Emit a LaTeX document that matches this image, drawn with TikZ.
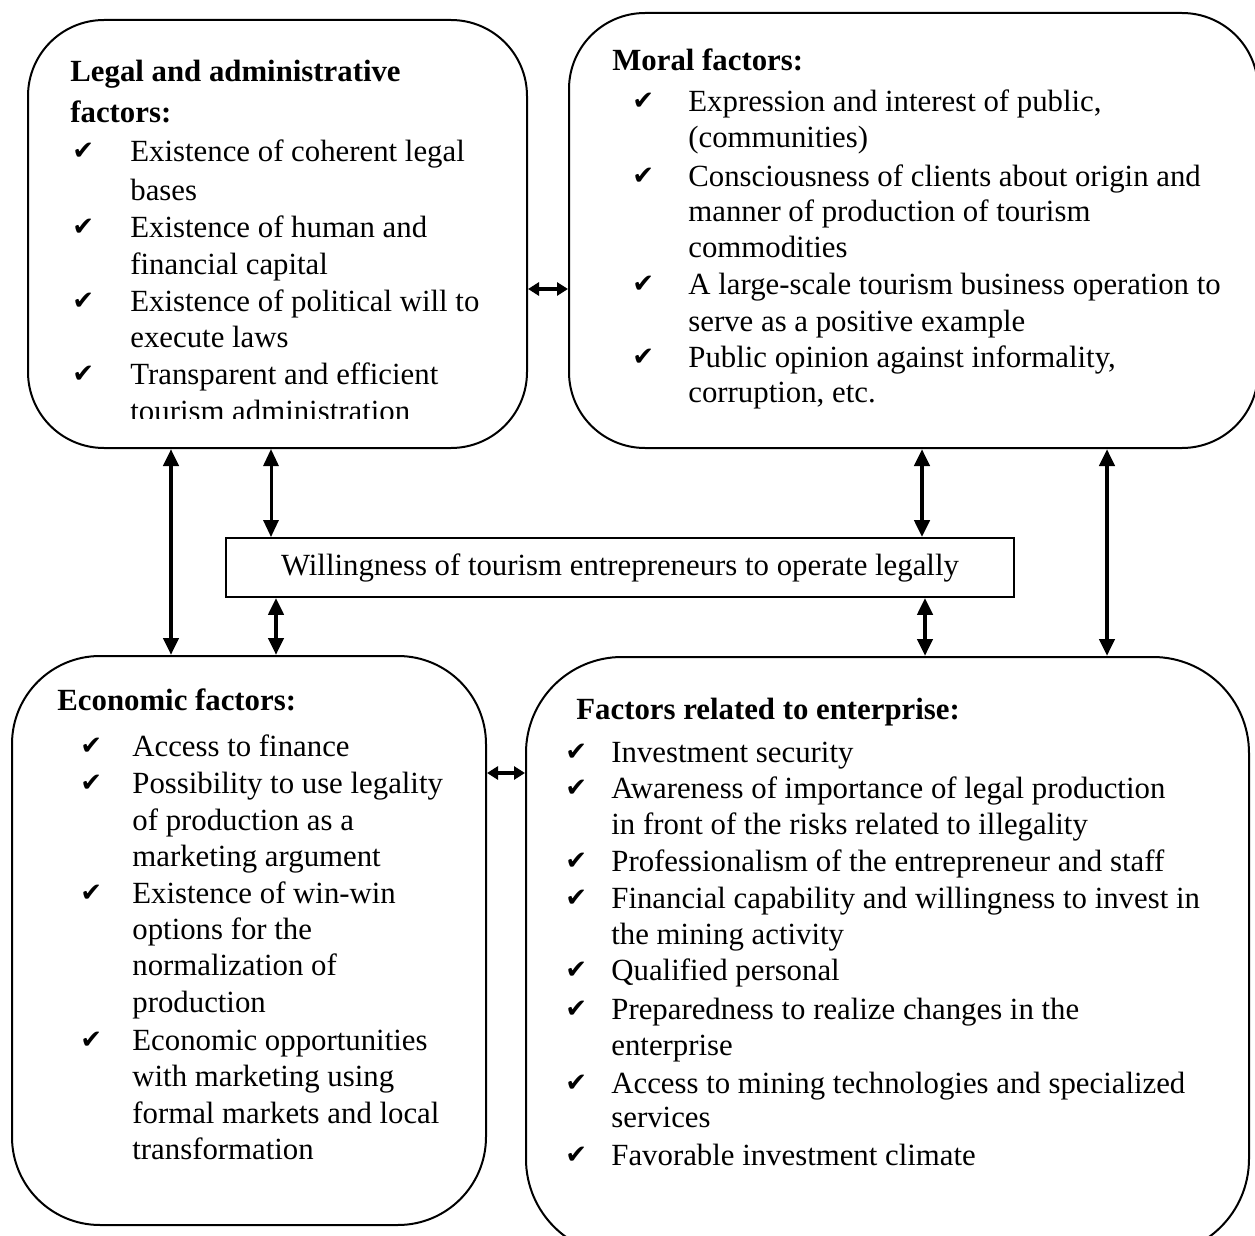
\documentclass[tikz,border=0pt]{standalone}
\usepackage{fontspec}
\setmainfont{Liberation Serif}
\newfontfamily\chkfont{DejaVu Sans}
\usetikzlibrary{arrows.meta}
\begin{document}
\begin{tikzpicture}[x=0.5pt,y=-0.5pt,
  box/.style={draw, line width=1pt, inner sep=0pt},
  txt/.style={anchor=mid west, inner sep=0pt, font=\fontsize{15.4}{18}\selectfont},
  ttl/.style={anchor=mid west, inner sep=0pt, font=\fontsize{15.4}{18}\selectfont\bfseries},
  chk/.style={anchor=mid west, inner sep=0pt, font=\chkfont\fontsize{13}{15}\selectfont},
  arrthick/.style={{Triangle[length=8.5pt,width=7.5pt]}-{Triangle[length=8.5pt,width=7.5pt]}, line width=2.2pt},
  arrthin/.style={{Triangle[length=8.5pt,width=7.5pt]}-{Triangle[length=8.5pt,width=7.5pt]}, line width=1.5pt},
  arrh/.style={{Triangle[length=5.5pt,width=6.5pt]}-{Triangle[length=5.5pt,width=6.5pt]}, line width=2.2pt}]
\useasboundingbox (0,0) rectangle (1255,1236);
\clip (0,0) rectangle (1255,1236);

% boxes
\node[box, rounded corners=38pt, minimum width=249.5pt, minimum height=214pt] (legal) at (277.5,234) {};
\node[box, rounded corners=38pt, minimum width=344.5pt, minimum height=217.5pt] (moral) at (913.5,230.5) {};
\node[box, line width=0.9pt, minimum width=394pt, minimum height=29.5pt] (will) at (620,567.5) {};
\node[box, rounded corners=44pt, minimum width=237pt, minimum height=284.5pt] (econ) at (249,940.5) {};
\node[box, rounded corners=48pt, minimum width=361.5pt, minimum height=299pt] (ent) at (887.5,956) {};

% connectors
\draw[arrthick] (171,0 |- legal.south) -- (171,0 |- econ.north);
\draw[arrthin] (271,0 |- legal.south) -- (271,0 |- will.north);
\draw[arrthick] (276,0 |- will.south) -- (276,0 |- econ.north);
\draw[arrthick] (922,0 |- moral.south) -- (922,0 |- will.north);
\draw[arrthick] (925,0 |- will.south) -- (925,0 |- ent.north);
\draw[arrthick] (1107,0 |- moral.south) -- (1107,0 |- ent.north);
\draw[arrh] (legal.east |- 0,289) -- (moral.west |- 0,289);
\draw[arrh] (econ.east |- 0,773) -- (ent.west |- 0,773);

% willingness text
\node[inner sep=0pt, font=\fontsize{15.4}{18}\selectfont] (wt) at (will.center) {Willingness of tourism entrepreneurs to operate legally};

% legal box text
\node[ttl] (lt1) at (70,77) {Legal and administrative};
\node[ttl] (lt2) at (70,118) {factors:};
\node[chk] (lc1) at (72,155) {✔};
\node[txt] (l1) at (130,157) {Existence of coherent legal};
\node[txt] (l2) at (130,196) {bases};
\node[chk] (lc2) at (72,231) {✔};
\node[txt] (l3) at (130,233) {Existence of human and};
\node[txt] (l4) at (130,270) {financial capital};
\node[chk] (lc3) at (72,305) {✔};
\node[txt] (l5) at (130,307) {Existence of political will to};
\node[txt] (l6) at (130,343) {execute laws};
\node[chk] (lc4) at (72,378) {✔};
\node[txt] (l7) at (130,380) {Transparent and efficient};
\begin{scope}
\clip (0,0) rectangle (1255,418);
\node[txt] (l8) at (130,417) {tourism administration};
\end{scope}

% moral box text
\node[ttl] (mt) at (612,66) {Moral factors:};
\node[chk] (mc1) at (632,105) {✔};
\node[txt] (m1) at (688,107) {Expression and interest of public,};
\node[txt] (m2) at (688,143) {(communities)};
\node[chk] (mc2) at (632,180) {✔};
\node[txt] (m3) at (688,182) {Consciousness of clients about origin and};
\node[txt] (m4) at (688,217) {manner of production of tourism};
\node[txt] (m5) at (688,253) {commodities};
\node[chk] (mc3) at (632,288) {✔};
\node[txt] (m6) at (688,290) {A large-scale tourism business operation to};
\node[txt] (m7) at (688,327) {serve as a positive example};
\node[chk] (mc4) at (632,361) {✔};
\node[txt] (m8) at (688,363) {Public opinion against informality,};
\node[txt] (m9) at (688,398) {corruption, etc.};

% economic box text
\node[ttl] (et) at (57,706) {Economic factors:};
\node[chk] (ec1) at (80,750) {✔};
\node[txt] (e1) at (132,752) {Access to finance};
\node[chk] (ec2) at (80,787) {✔};
\node[txt] (e2) at (132,789) {Possibility to use legality};
\node[txt] (e3) at (132,826) {of production as a};
\node[txt] (e4) at (132,862) {marketing argument};
\node[chk] (ec3) at (80,897) {✔};
\node[txt] (e5) at (132,899) {Existence of win-win};
\node[txt] (e6) at (132,935) {options for the};
\node[txt] (e7) at (132,971) {normalization of};
\node[txt] (e8) at (132,1008) {production};
\node[chk] (ec4) at (80,1044) {✔};
\node[txt] (e9) at (132,1046) {Economic opportunities};
\node[txt] (e10) at (132,1082) {with marketing using};
\node[txt] (e11) at (132,1119) {formal markets and local};
\node[txt] (e12) at (132,1155) {transformation};

% enterprise box text
\node[ttl] (ft) at (576,715) {Factors related to enterprise:};
\node[chk] (fc1) at (565,756) {✔};
\node[txt] (f1) at (611,758) {Investment security};
\node[chk] (fc2) at (565,792) {✔};
\node[txt] (f2) at (611,794) {Awareness of importance of legal production};
\node[txt] (f3) at (611,830) {in front of the risks related to illegality};
\node[chk] (fc3) at (565,865) {✔};
\node[txt] (f4) at (611,867) {Professionalism of the entrepreneur and staff};
\node[chk] (fc4) at (565,902) {✔};
\node[txt] (f5) at (611,904) {Financial capability and willingness to invest in};
\node[txt] (f6) at (611,940) {the mining activity};
\node[chk] (fc5) at (565,974) {✔};
\node[txt] (f7) at (611,976) {Qualified personal};
\node[chk] (fc6) at (565,1013) {✔};
\node[txt] (f8) at (611,1015) {Preparedness to realize changes in the};
\node[txt] (f9) at (611,1051) {enterprise};
\node[chk] (fc7) at (565,1087) {✔};
\node[txt] (f10) at (611,1089) {Access to mining technologies and specialized};
\node[txt] (f11) at (611,1123) {services};
\node[chk] (fc8) at (565,1159) {✔};
\node[txt] (f12) at (611,1161) {Favorable investment climate};
\end{tikzpicture}
\end{document}
